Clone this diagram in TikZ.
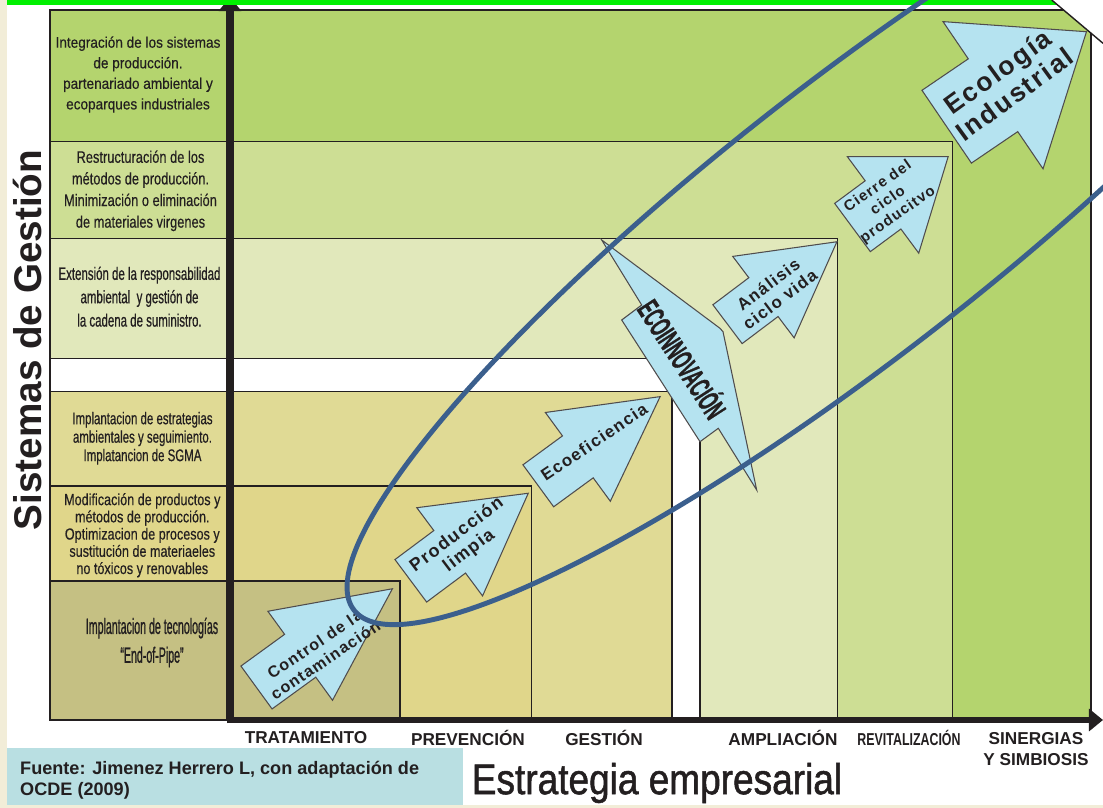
\documentclass[tikz,border=0pt]{standalone}
\usepackage{fontspec}
\setmainfont{Liberation Sans}
\newfontfamily\rowA[FakeStretch=0.89, FakeBold=0.4]{Liberation Sans}
\newfontfamily\rowB[FakeStretch=0.77, FakeBold=0.4]{Liberation Sans}
\newfontfamily\rowC[FakeStretch=0.64, FakeBold=0.6]{Liberation Sans}
\newfontfamily\rowD[FakeStretch=0.68, FakeBold=0.5]{Liberation Sans}
\newfontfamily\rowE[FakeStretch=0.78, FakeBold=0.4]{Liberation Sans}
\newfontfamily\rowF[FakeStretch=0.48, FakeBold=0.7]{Liberation Sans}
\newfontfamily\revfont[FakeStretch=0.72]{Liberation Sans}
\newfontfamily\titlefont[FakeStretch=0.86, FakeBold=1.2]{Liberation Sans}
\newfontfamily\arrowfont[LetterSpace=8]{Liberation Sans}
\newfontfamily\innofont[FakeStretch=0.51, FakeBold=0.8]{Liberation Sans}
\usetikzlibrary{arrows.meta}

\definecolor{sinerg}{HTML}{B4D46E}
\definecolor{revit}{HTML}{CDDE94}
\definecolor{amplia}{HTML}{E1E8BB}
\definecolor{gestion}{HTML}{E0DA95}
\definecolor{prevenc}{HTML}{E0D68A}
\definecolor{tratam}{HTML}{C5C083}
\definecolor{arrowblue}{HTML}{B5E3F0}
\definecolor{ringblue}{HTML}{3B5F8D}
\definecolor{footblue}{HTML}{B9DFE2}
\definecolor{slidebg}{HTML}{F2EDD8}
\definecolor{topgreen}{HTML}{00F000}
\definecolor{ink}{HTML}{231F20}

\tikzset{
	box/.style={draw=ink, line width=0.8pt},
	rowtext/.style={text=ink, align=center},
	axislabel/.style={font=\bfseries\fontsize{9.8}{12.4}\selectfont, text=ink, align=center},
	bluearrow/.style={draw=ink!80, line width=0.6pt, fill=arrowblue},
	arrowtext/.style={text=ink, align=center},
	axisline/.style={line width=3.4pt, ink, -{Triangle[length=8pt,width=12.5pt]}}
}

\newcommand{\ecoarrow}[6]{%
	\begin{scope}[shift={#1}, rotate=#2]
		\draw[bluearrow] (0,-#5) -- ({#3-#4},-#5) -- ({#3-#4},-#6) -- (#3,0)
			-- ({#3-#4},#6) -- ({#3-#4},#5) -- (0,#5) -- cycle;
	\end{scope}}

\begin{document}
\begin{tikzpicture}[x=0.02cm, y=-0.02cm]
	\useasboundingbox (0,0) rectangle (1103,808);
	\clip (0,0) rectangle (1103,808);
	\fill[slidebg] (0,0) rectangle (1103,808);
	\fill[white] (7,5) rectangle (1103,805);

	\filldraw[box, fill=sinerg] (50,10) rectangle (227,141.7);
	\filldraw[box, fill=revit] (50,141.7) rectangle (227,238.3);
	\filldraw[box, fill=amplia] (50,238.3) rectangle (227,358.3);
	\filldraw[box, fill=white] (50,358.3) rectangle (227,391.7);
	\filldraw[box, fill=gestion] (50,391.7) rectangle (227,486);
	\filldraw[box, fill=prevenc] (50,486) rectangle (227,581);
	\filldraw[box, fill=tratam] (50,581) rectangle (227,720);

	\filldraw[box, fill=sinerg] (233,10) rectangle (1091,718);
	\filldraw[box, fill=revit] (233,141.7) rectangle (952.7,718);
	\filldraw[box, fill=amplia] (233,238.3) rectangle (837.7,718);
	\filldraw[box, fill=white] (233,358.3) rectangle (700,718);
	\filldraw[box, fill=gestion] (233,391.7) rectangle (672,718);
	\filldraw[box, fill=prevenc] (233,486) rectangle (531.7,718);
	\filldraw[box, fill=tratam] (233,581) rectangle (400,718);

	\node[rowtext, font=\rowA\fontsize{8.7}{11.7}\selectfont] (integ) at (138,74.5) {Integración de los sistemas\\de producción.\\partenariado ambiental y\\ecoparques industriales};
	\node[rowtext, font=\rowB\fontsize{9.5}{12.3}\selectfont] (restr) at (140.5,190.8) {Restructuración de los\\métodos de producción.\\Minimización o eliminación\\de materiales virgenes};
	\node[rowtext, font=\rowC\fontsize{10.2}{13.3}\selectfont] (exten) at (139.5,296.7) {Extensión de la responsabilidad\\ambiental \ y gestión de\\la cadena de suministro.};
	\node[rowtext, font=\rowD\fontsize{9.6}{10.5}\selectfont] (impla) at (142.5,438.3) {Implantacion de estrategias\\ambientales y seguimiento.\\Implatancion de SGMA};
	\node[rowtext, font=\rowE\fontsize{9.2}{9.8}\selectfont] (modif) at (142.3,535.3) {Modificación de productos y\\métodos de producción.\\Optimizacion de procesos y\\sustitución de materiaeles\\no tóxicos y renovables};
	\node[rowtext, font=\rowF\fontsize{12.6}{16.4}\selectfont] (endpipe) at (152,642.5) {Implantacion de tecnologías\\“End-of-Pipe”};

	\coordinate (origin) at (230,720);
	\coordinate (ytop) at (230,-3);
	\coordinate (xend) at (1103,720);
	\draw[axisline] (230,723) -- (ytop);
	\draw[axisline] (227,720) -- (xend);

	\fill[topgreen] (7,0) rectangle (1103,5);
	\fill[white] (1051.7,0) -- (1103,43.3) -- (1103,0) -- cycle;
	\draw[ink, line width=0.8pt] (1051.7,0) -- (1103,43.3);

	\ecoarrow{(256.5,687.5)}{36}{168}{114}{26.5}{55}
	\ecoarrow{(410.8,580.8)}{36.7}{146.5}{98}{26.5}{55}
	\ecoarrow{(538.3,485.8)}{36.2}{151}{102}{26}{55}
	\ecoarrow{(727.5,324.2)}{37}{137}{92}{24.3}{51}
	\ecoarrow{(852.5,227.5)}{36.5}{119}{81}{30}{60}
	\ecoarrow{(946.7,126.7)}{34.2}{169}{113}{44}{89}
	\draw[bluearrow] (601.7,240) -- (641.7,305) -- (621.7,320) -- (700,441.7) -- (718.3,428.3)
		-- (756.7,490) -- (723,331.7) -- (720,328.3) -- cycle;

	\node[arrowtext, rotate=34, font=\arrowfont\bfseries\fontsize{9.1}{10.8}\selectfont] (control) at (320,652) {Control de la\\contaminación};
	\node[arrowtext, rotate=37, font=\arrowfont\bfseries\fontsize{10.2}{11.5}\selectfont] (prodlimpia) at (463,543) {Producción\\limpia};
	\node[arrowtext, rotate=34, font=\arrowfont\bfseries\fontsize{9.6}{11}\selectfont] (ecoefic) at (594,442) {Ecoeficiencia};
	\node[arrowtext, rotate=37, font=\arrowfont\bfseries\fontsize{9.6}{11}\selectfont] (analisis) at (774,292) {Análisis\\ciclo vida};
	\node[arrowtext, rotate=35, font=\arrowfont\bfseries\fontsize{8.5}{9.9}\selectfont] (cierre) at (888,201) {Cierre del\\ciclo\\producitvo};
	\node[arrowtext, rotate=36, font=\arrowfont\bfseries\fontsize{15}{16}\selectfont] (ecoind) at (1006,83) {Ecología\\Industrial};
	\node[arrowtext, rotate=-57, font=\innofont\bfseries\fontsize{17.6}{20}\selectfont] (ecoinno) at (684,358) {ECOINNOVACIÓN};

	\node[axislabel] (trat) at (306,738) {TRATAMIENTO};
	\node[axislabel] (prev) at (468,738) {PREVENCIÓN};
	\node[axislabel] (gest) at (604,738) {GESTIÓN};
	\node[axislabel] (ampl) at (783,738) {AMPLIACIÓN};
	\node[axislabel, font=\revfont\bfseries\fontsize{9.8}{12.4}\selectfont] (revi) at (909,738) {REVITALIZACIÓN};
	\node[axislabel] (siner) at (1036,749) {SINERGIAS\\Y SIMBIOSIS};

	\node[rotate=90, text=ink, font=\bfseries\fontsize{22}{24}\selectfont] (sistemas) at (28,340) {Sistemas de Gestión};

	\fill[footblue] (7,748) rectangle (463,805);
	\node[anchor=west, align=left, text=ink, font=\bfseries\fontsize{10.3}{11.9}\selectfont] (fuente) at (14,780.5) {Fuente: Jimenez Herrero L, con adaptación de\\OCDE (2009)};
	\node[text=ink, font=\titlefont\fontsize{24.5}{27}\selectfont] (estrat) at (657,783) {Estrategia empresarial};

	\draw[ringblue, line width=2.8pt, rotate around={38:(856,218)}] (856,218) ellipse [x radius=637, y radius=136];
\end{tikzpicture}
\end{document}
